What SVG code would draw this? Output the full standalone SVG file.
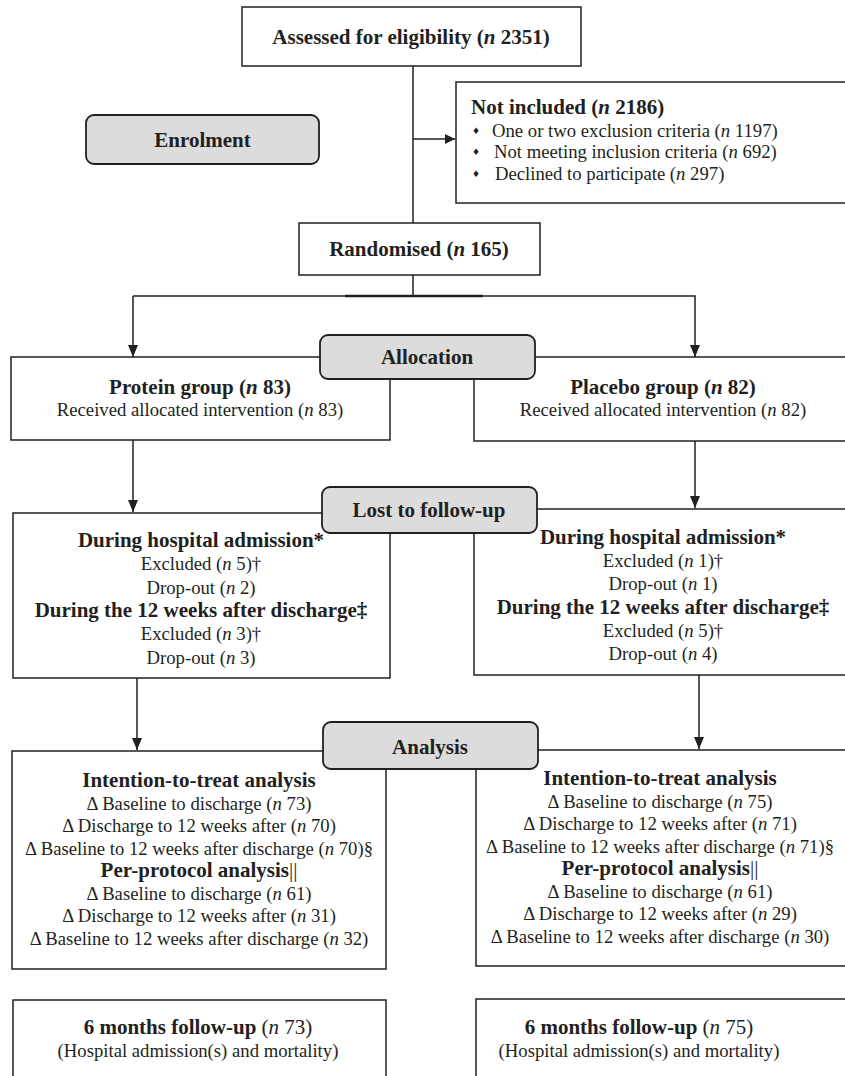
<svg xmlns="http://www.w3.org/2000/svg" width="845" height="1076" viewBox="0 0 845 1076">
<defs>
<style>
.b{font-family:"Liberation Serif","Times New Roman",serif;font-weight:bold;font-size:21px;fill:#231f20;text-anchor:middle}
.r{font-family:"Liberation Serif","Times New Roman",serif;font-size:18.7px;fill:#231f20;text-anchor:middle}
.s{text-anchor:start}
.i{font-style:italic}
.nb{font-weight:normal}
.box{fill:#fff;stroke:#231f20;stroke-width:1.5}
.gbox{fill:#dcdcdc;stroke:#231f20;stroke-width:1.8}
.conn{stroke:#231f20;stroke-width:1.5;fill:none}
.dia{font-family:"DejaVu Sans",sans-serif;font-size:9px;fill:#231f20}
</style>
<marker id="ah" viewBox="0 0 10 10" refX="10" refY="5" markerWidth="10" markerHeight="10" markerUnits="userSpaceOnUse" orient="auto">
<path d="M0,0 L10,5 L0,10 z" fill="#231f20"/>
</marker>
<marker id="ahd" viewBox="0 0 12 10" refX="12" refY="5" markerWidth="12" markerHeight="10" markerUnits="userSpaceOnUse" orient="auto">
<path d="M0,0 L12,5 L0,10 z" fill="#231f20"/>
</marker>
</defs>
<rect width="845" height="1076" fill="#fff"/>

<g id="connectors">
<line class="conn" x1="413" y1="66" x2="413" y2="223"/>
<line class="conn" x1="413" y1="139" x2="455" y2="139" marker-end="url(#ah)"/>
<line class="conn" x1="413" y1="275" x2="413" y2="296"/>
<polyline class="conn" points="133,296 695,296 695,357" marker-end="url(#ahd)"/>
<line class="conn" x1="133" y1="296" x2="133" y2="357" marker-end="url(#ahd)"/>
<line x1="345" y1="296" x2="483" y2="296" stroke="#231f20" stroke-width="2.6"/>
<line class="conn" x1="133" y1="440" x2="133" y2="512" marker-end="url(#ahd)"/>
<line class="conn" x1="695" y1="441" x2="695" y2="508" marker-end="url(#ahd)"/>
<line class="conn" x1="137" y1="678" x2="137" y2="750" marker-end="url(#ahd)"/>
<line class="conn" x1="699" y1="675" x2="699" y2="749" marker-end="url(#ahd)"/>
</g>

<g id="assessed">
<rect class="box" x="242" y="7" width="339" height="59"/>
<text class="b" x="411" y="44">Assessed for eligibility (<tspan class="i">n</tspan> 2351)</text>
</g>

<g id="not-included">
<rect class="box" x="456" y="82" width="394" height="121"/>
<text class="b s" x="471" y="114">Not included (<tspan class="i">n</tspan> 2186)</text>
<text class="dia" x="472" y="134">♦</text>
<text class="r s" x="492" y="137">One or two exclusion criteria (<tspan class="i">n</tspan> 1197)</text>
<text class="dia" x="472" y="155">♦</text>
<text class="r s" x="494" y="158">Not meeting inclusion criteria (<tspan class="i">n</tspan> 692)</text>
<text class="dia" x="472" y="177">♦</text>
<text class="r s" x="495" y="180">Declined to participate (<tspan class="i">n</tspan> 297)</text>
</g>

<g id="enrolment">
<rect class="gbox" x="86" y="115" width="233" height="49" rx="8"/>
<text class="b" x="202.5" y="147">Enrolment</text>
</g>

<g id="randomised">
<rect class="box" x="299" y="223" width="241" height="52"/>
<text class="b" x="419" y="256">Randomised (<tspan class="i">n</tspan> 165)</text>
</g>

<g id="protein">
<rect class="box" x="11" y="357" width="379" height="83"/>
<text class="b" x="200" y="394">Protein group (<tspan class="i">n</tspan> 83)</text>
<text class="r" x="200" y="416">Received allocated intervention (<tspan class="i">n</tspan> 83)</text>
</g>

<g id="placebo">
<rect class="box" x="474" y="357" width="380" height="84"/>
<text class="b" x="663" y="394">Placebo group (<tspan class="i">n</tspan> 82)</text>
<text class="r" x="663" y="416">Received allocated intervention (<tspan class="i">n</tspan> 82)</text>
</g>

<g id="allocation">
<rect class="gbox" x="320" y="335" width="215" height="44" rx="8"/>
<text class="b" x="427" y="364">Allocation</text>
</g>

<g id="lost-protein">
<rect class="box" x="13" y="513" width="377" height="165"/>
<text class="b" x="201" y="547">During hospital admission*</text>
<text class="r" x="201" y="570">Excluded (<tspan class="i">n</tspan> 5)†</text>
<text class="r" x="201" y="593.5">Drop-out (<tspan class="i">n</tspan> 2)</text>
<text class="b" x="201" y="617">During the 12 weeks after discharge‡</text>
<text class="r" x="201" y="640">Excluded (<tspan class="i">n</tspan> 3)†</text>
<text class="r" x="201" y="663.5">Drop-out (<tspan class="i">n</tspan> 3)</text>
</g>

<g id="lost-placebo">
<rect class="box" x="474" y="509" width="380" height="166"/>
<text class="b" x="663" y="544">During hospital admission*</text>
<text class="r" x="663" y="567">Excluded (<tspan class="i">n</tspan> 1)†</text>
<text class="r" x="663" y="590">Drop-out (<tspan class="i">n</tspan> 1)</text>
<text class="b" x="663" y="613.5">During the 12 weeks after discharge‡</text>
<text class="r" x="663" y="636.5">Excluded (<tspan class="i">n</tspan> 5)†</text>
<text class="r" x="663" y="659.5">Drop-out (<tspan class="i">n</tspan> 4)</text>
</g>

<g id="lost-label">
<rect class="gbox" x="322" y="487" width="215" height="46" rx="8"/>
<text class="b" x="429" y="517">Lost to follow-up</text>
</g>

<g id="analysis-protein">
<rect class="box" x="12" y="751" width="374" height="218"/>
<text class="b" x="199" y="787">Intention-to-treat analysis</text>
<text class="r" x="199" y="809.5">Δ Baseline to discharge (<tspan class="i">n</tspan> 73)</text>
<text class="r" x="199" y="832">Δ Discharge to 12 weeks after (<tspan class="i">n</tspan> 70)</text>
<text class="r" x="199" y="854.5">Δ Baseline to 12 weeks after discharge (<tspan class="i">n</tspan> 70)§</text>
<text class="b" x="199" y="877">Per-protocol analysis<tspan class="nb">||</tspan></text>
<text class="r" x="199" y="899.5">Δ Baseline to discharge (<tspan class="i">n</tspan> 61)</text>
<text class="r" x="199" y="922">Δ Discharge to 12 weeks after (<tspan class="i">n</tspan> 31)</text>
<text class="r" x="199" y="944.5">Δ Baseline to 12 weeks after discharge (<tspan class="i">n</tspan> 32)</text>
</g>

<g id="analysis-placebo">
<rect class="box" x="476" y="750" width="378" height="216"/>
<text class="b" x="660" y="785">Intention-to-treat analysis</text>
<text class="r" x="660" y="807.5">Δ Baseline to discharge (<tspan class="i">n</tspan> 75)</text>
<text class="r" x="660" y="830">Δ Discharge to 12 weeks after (<tspan class="i">n</tspan> 71)</text>
<text class="r" x="660" y="852.5">Δ Baseline to 12 weeks after discharge (<tspan class="i">n</tspan> 71)§</text>
<text class="b" x="660" y="875">Per-protocol analysis<tspan class="nb">||</tspan></text>
<text class="r" x="660" y="897.5">Δ Baseline to discharge (<tspan class="i">n</tspan> 61)</text>
<text class="r" x="660" y="920">Δ Discharge to 12 weeks after (<tspan class="i">n</tspan> 29)</text>
<text class="r" x="660" y="942.5">Δ Baseline to 12 weeks after discharge (<tspan class="i">n</tspan> 30)</text>
</g>

<g id="analysis-label">
<rect class="gbox" x="323" y="722" width="215" height="47" rx="8"/>
<text class="b" x="430" y="754">Analysis</text>
</g>

<g id="followup-protein">
<rect class="box" x="13" y="1000" width="373" height="90"/>
<text class="b" x="198" y="1034">6 months follow-up<tspan class="nb"> (<tspan class="i">n</tspan> 73)</tspan></text>
<text class="r" x="198" y="1057">(Hospital admission(s) and mortality)</text>
</g>

<g id="followup-placebo">
<rect class="box" x="476" y="999" width="378" height="90"/>
<text class="b" x="639" y="1034">6 months follow-up<tspan class="nb"> (<tspan class="i">n</tspan> 75)</tspan></text>
<text class="r" x="639" y="1057">(Hospital admission(s) and mortality)</text>
</g>
</svg>
